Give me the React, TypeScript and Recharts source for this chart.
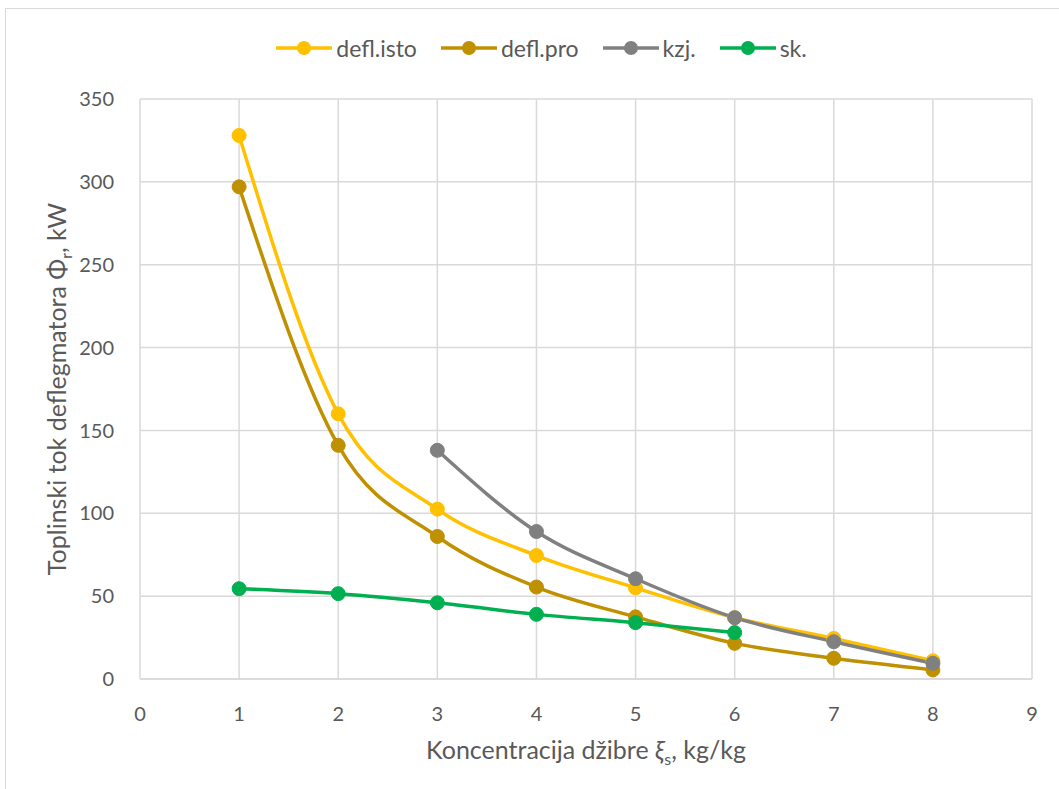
import React from "react";
import { LineChart, Line, XAxis, YAxis, CartesianGrid } from "recharts";

const xValues = [1, 2, 3, 4, 5, 6, 7, 8];
const deflIsto = [328, 160, 102.5, 74.5, 55, 37, 24.5, 11];
const deflPro = [297, 141, 86, 55.5, 37.5, 21.5, 12.5, 5.5];
const kzj = [null, null, 138, 89, 60.5, 37, 22.5, 9.5];
const sk = [54.5, 51.5, 46, 39, 34, 28, null, null];
const xTicks = [0, 1, 2, 3, 4, 5, 6, 7, 8, 9];
const yTicks = [0, 50, 100, 150, 200, 250, 300, 350];

const series = [
  { key: "deflIsto", name: "defl.isto", color: "#FFC000" },
  { key: "deflPro", name: "defl.pro", color: "#BF9000" },
  { key: "kzj", name: "kzj.", color: "#808080" },
  { key: "sk", name: "sk.", color: "#00B050" },
];

const data = xValues.map((x, i) => ({
  x,
  deflIsto: deflIsto[i],
  deflPro: deflPro[i],
  kzj: kzj[i],
  sk: sk[i],
}));

const FONT = "Lato, 'Open Sans', sans-serif";
const TXT = "#595959";

function LegendBox() {
  return (
    <div
      style={{
        position: "absolute",
        left: 0,
        top: 34,
        width: 1083,
        display: "flex",
        justifyContent: "center",
        gap: 24,
        fontFamily: FONT,
        fontSize: 23,
        color: TXT,
      }}
    >
      {series.map((s) => (
        <div key={s.key} style={{ display: "flex", alignItems: "center" }}>
          <svg width={56} height={24}>
            <line x1={0} y1={12} x2={56} y2={12} stroke={s.color} strokeWidth={3.5} />
            <circle cx={28} cy={12} r={7} fill={s.color} />
          </svg>
          <span style={{ marginLeft: 4 }}>{s.name}</span>
        </div>
      ))}
    </div>
  );
}

export default function App() {
  return (
    <div style={{ position: "absolute", left: 0, top: 0, width: 1059, height: 789, background: "#fff" }}>
      <div style={{ position: "absolute", left: 5, top: 8, width: 1060, height: 790, border: "1px solid #d9d9d9" }} />
      <LegendBox />
      <LineChart width={1059} height={789} data={data} margin={{ top: 99, right: 27, left: 80, bottom: 70 }}>
        <CartesianGrid stroke="#d9d9d9" strokeWidth={1.5} />
        <XAxis
          dataKey="x"
          type="number"
          domain={[0, 9]}
          ticks={xTicks}
          height={40}
          tickLine={false}
          axisLine={{ stroke: "#d9d9d9", strokeWidth: 1.5 }}
          tickMargin={22}
          tick={{ fill: TXT, fontSize: 20, fontFamily: FONT }}
          label={{
            position: "bottom",
            content: ({ viewBox }: any) => (
              <text
                x={viewBox.x + viewBox.width / 2}
                y={759}
                textAnchor="middle"
                fill={TXT}
                fontSize={25}
                fontFamily={FONT}
              >
                Koncentracija džibre <tspan fontStyle="italic">ξ</tspan>
                <tspan fontSize={16} dy={6}>s</tspan>
                <tspan dy={-6}>, kg/kg</tspan>
              </text>
            ),
          }}
        />
        <YAxis
          type="number"
          domain={[0, 350]}
          ticks={yTicks}
          width={60}
          tickLine={false}
          axisLine={false}
          tickMargin={20}
          tick={{ fill: TXT, fontSize: 20, fontFamily: FONT }}
          label={{
            content: ({ viewBox }: any) => {
              const cx = 66;
              const cy = viewBox.y + viewBox.height / 2;
              return (
                <text
                  x={cx}
                  y={cy}
                  transform={`rotate(-90 ${cx} ${cy})`}
                  textAnchor="middle"
                  fill={TXT}
                  fontSize={25}
                  fontFamily={FONT}
                >
                  Toplinski tok deflegmatora Φ
                  <tspan fontSize={16} dy={6}>r</tspan>
                  <tspan dy={-6}>, kW</tspan>
                </text>
              );
            },
          }}
        />
        {series.map((s) => (
          <Line
            key={s.key}
            dataKey={s.key}
            name={s.name}
            type="monotone"
            stroke={s.color}
            strokeWidth={3.5}
            dot={{ r: 7, fill: s.color, stroke: s.color, strokeWidth: 1 }}
            activeDot={false}
            isAnimationActive={false}
          />
        ))}
      </LineChart>
    </div>
  );
}
